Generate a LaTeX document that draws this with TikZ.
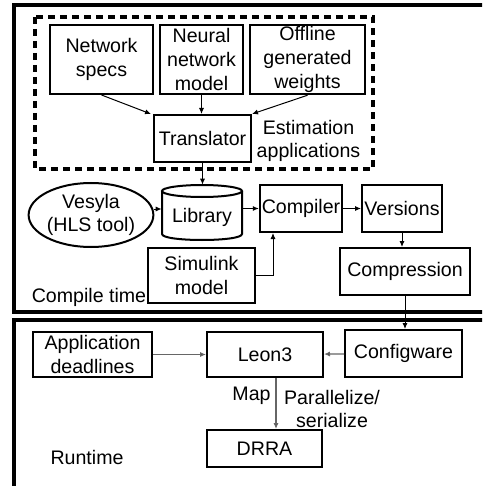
\documentclass[tikz,border=0pt]{standalone}
\usepackage{fontspec}
\setmainfont{Liberation Sans}
\usetikzlibrary{arrows.meta,shapes.geometric}

\begin{document}
\begin{tikzpicture}[
  x=0.5pt, y=-0.5pt,
  >={Latex[length=3pt,width=2.6pt]},
  font=\fontsize{9.8}{11.8}\selectfont,
  blk/.style={draw,line width=1pt,align=center,inner sep=1pt},
  txt/.style={align=center,inner sep=0pt},
  arr/.style={->,line width=0.5pt},
  garr/.style={line width=0.6pt,draw=black!60,-{Latex[length=3pt,width=2.6pt,fill=black]}},
  frame/.style={line width=1.6pt}
]
\clip (0,0) rectangle (482,486);
% compile time / runtime frames
\draw[frame] (530,312) -- (14,312) -- (14,5) -- (530,5);
\draw[frame] (530,320) -- (14,320) -- (14,540);
\draw[line width=1.6pt,dash pattern=on 3.5pt off 2.5pt] (35,17) rectangle (373,169);
% estimation applications
\node[blk,minimum width=51.5pt,minimum height=34.5pt] (spec) at (101.5,59.5) {Network\\specs};
\node[blk,minimum width=41.5pt,minimum height=34.5pt] (nnm) at (201.5,59.5) {Neural\\network\\model};
\node[blk,minimum width=57.5pt,minimum height=34.5pt] (wts) at (307.5,59.5) {Offline\\generated\\weights};
\node[blk,minimum width=48.5pt,minimum height=23.5pt] (trans) at (202.5,138.5) {Translator};
\node[txt] (est) at (308.5,141) {Estimation\\applications};
% compile time
\node[draw,ellipse,line width=1pt,inner sep=0pt,minimum width=54pt,minimum height=32pt,align=center] (vesyla) at (91,215) {Vesyla\\(HLS tool)};
\node[txt,minimum width=40pt,minimum height=27.5pt] (lib) at (202,212.5) {};
\node[txt] (libtxt) at (202,217) {Library};
\draw[line width=1pt] (202,191) ellipse [x radius=40,y radius=6];
\draw[line width=1pt] (162,191) -- (162,234) .. controls (162,242) and (242,242) .. (242,234) -- (242,191);
\node[blk,minimum width=41pt,minimum height=23.5pt] (comp) at (301,208.5) {Compiler};
\node[blk,minimum width=40pt,minimum height=23.5pt] (ver) at (402,208.5) {Versions};
\node[blk,minimum width=65pt,minimum height=23.5pt] (compr) at (405,271.5) {Compression};
\node[blk,minimum width=53.5pt,minimum height=27.5pt] (sim) at (201.5,275.5) {Simulink\\model};
\node[txt] (ctime) at (89,297) {Compile time};
% runtime
\node[blk,minimum width=59.5pt,minimum height=22.5pt] (app) at (92.5,354.5) {Application\\deadlines};
\node[blk,minimum width=58pt,minimum height=22.5pt] (leon) at (265,354.5) {Leon3};
\node[blk,minimum width=58.5pt,minimum height=23.5pt] (cfg) at (403.5,353.5) {Configware};
\node[blk,minimum width=57.5pt,minimum height=18.5pt] (drra) at (264.5,448.5) {DRRA};
\node[txt] (rtime) at (87,457) {Runtime};
\coordinate (mapx) at (276,400);
\coordinate (simx) at (273,0);

\draw[arr] (spec.south) -- ([xshift=-1pt]trans.north west);
\draw[arr] (nnm.south) -- (nnm.south |- trans.north);
\draw[arr] (wts.south) -- (trans.north east);
\draw[arr] (trans.south) -- (trans.south |- lib.north);
\draw[arr] ([yshift=3pt]vesyla.east) -- ([yshift=3pt]vesyla.east -| lib.west);
\draw[arr] (lib.east |- comp) -- (comp);
\draw[arr] (comp) -- (ver);
\draw[arr] (ver.south) -- (ver.south |- compr.north);
\draw[arr] (sim.east) -| (simx |- comp.south);
\draw[arr] (compr.south) -- (compr.south |- cfg.north);
\draw[garr] (app) -- (leon);
\draw[garr] (cfg) -- (leon);
\draw[garr] (leon.south -| mapx) -- (drra.north -| mapx);
\node[txt,anchor=east] (map) at (271,396) {Map};
\node[txt] (par) at (332,409) {Parallelize/\\serialize};
\end{tikzpicture}
\end{document}
